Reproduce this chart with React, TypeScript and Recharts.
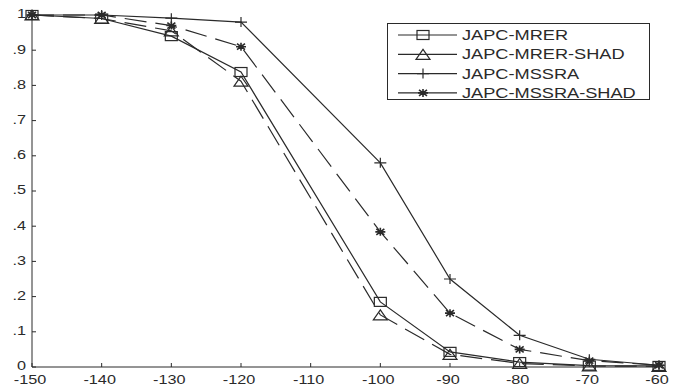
import { LineChart, Line, XAxis, YAxis, Legend } from "recharts";

// SNR axis (dB) and detection probability per scheme
const snr = [-150, -140, -130, -120, -100, -90, -80, -70, -60];
const mrer = [1, 0.99, 0.94, 0.838, 0.185, 0.043, 0.014, 0.004, 0.003];
const mrerShad = [1, 0.99, 0.955, 0.812, 0.148, 0.036, 0.01, 0.003, 0.002];
const mssra = [1, 1, 0.991, 0.98, 0.58, 0.25, 0.09, 0.022, 0.005];
const mssraShad = [1, 1, 0.97, 0.91, 0.384, 0.153, 0.05, 0.018, 0.005];

const xTicks = [-150, -140, -130, -120, -110, -100, -90, -80, -70, -60];
const yTicks = [0, 0.1, 0.2, 0.3, 0.4, 0.5, 0.6, 0.7, 0.8, 0.9, 1];

const INK = "#2a2a2a";
const FONT = "'Liberation Sans', Arial, sans-serif";

type Shape = "square" | "triangle" | "plus" | "star";

const series: { key: string; name: string; shape: Shape; dash?: string }[] = [
  { key: "mrer", name: "JAPC-MRER", shape: "square" },
  { key: "mrerShad", name: "JAPC-MRER-SHAD", shape: "triangle", dash: "22 9" },
  { key: "mssra", name: "JAPC-MSSRA", shape: "plus" },
  { key: "mssraShad", name: "JAPC-MSSRA-SHAD", shape: "star", dash: "22 9" },
];

const data = snr.map((x, i) => ({
  snr: x,
  mrer: mrer[i],
  mrerShad: mrerShad[i],
  mssra: mssra[i],
  mssraShad: mssraShad[i],
}));

function marker(shape: Shape, cx: number, cy: number, key?: string) {
  const common = { stroke: INK, strokeWidth: 1.2, fill: "none" };
  switch (shape) {
    case "square":
      return <rect key={key} x={cx - 6} y={cy - 4.5} width={12} height={9} {...common} />;
    case "triangle":
      return (
        <polygon
          key={key}
          points={`${cx},${cy - 5} ${cx - 7},${cy + 5} ${cx + 7},${cy + 5}`}
          {...common}
        />
      );
    case "plus":
      return (
        <path key={key} d={`M${cx - 6},${cy}H${cx + 6}M${cx},${cy - 5}V${cy + 5}`} {...common} />
      );
    default:
      return (
        <path
          key={key}
          d={`M${cx - 5},${cy}H${cx + 5}M${cx},${cy - 4}V${cy + 4}M${cx - 4},${cy - 3}L${cx + 4},${cy + 3}M${cx - 4},${cy + 3}L${cx + 4},${cy - 3}`}
          {...common}
          strokeWidth={1.6}
        />
      );
  }
}

const XTick = ({ x, y, payload }: any) => (
  <text
    transform={`translate(${x - 2},${y}) scale(1.3,1)`}
    textAnchor="middle"
    dy="0.71em"
    fontSize={12.5}
    fontFamily={FONT}
    fill={INK}
  >
    {payload.value}
  </text>
);

const fmtY = (v: number) => (v === 0 ? "0" : v === 1 ? "1" : "." + Math.round(v * 10));

const YTick = ({ x, y, payload }: any) => (
  <text
    transform={`translate(${x},${y - 1}) scale(1.3,1)`}
    textAnchor="end"
    dy="0.355em"
    fontSize={12.5}
    fontFamily={FONT}
    fill={INK}
  >
    {fmtY(payload.value)}
  </text>
);

const LegendBox = () => (
  <svg width={263} height={77}>
    <rect x={0.5} y={0.5} width={262} height={76} fill="#fff" stroke={INK} />
    {series.map((s, i) => {
      const cy = 12 + i * 19.3;
      return (
        <g key={s.key}>
          <line x1={11} x2={70} y1={cy} y2={cy} stroke={INK} strokeWidth={1.2} />
          {marker(s.shape, 36, cy)}
          <text
            transform={`translate(75,${cy}) scale(1.3,1)`}
            dy="0.355em"
            fontSize={14}
            fontFamily={FONT}
            fill={INK}
          >
            {s.name}
          </text>
        </g>
      );
    })}
  </svg>
);

export default function App() {
  return (
    <div style={{ position: "absolute", left: 0, top: 0, background: "#fff" }}>
      <LineChart
        width={685}
        height={386}
        data={data}
        margin={{ top: 15, right: 26, bottom: 0, left: 0 }}
      >
        <XAxis
          dataKey="snr"
          type="number"
          domain={[-150, -60]}
          ticks={xTicks}
          height={19}
          stroke={INK}
          tickSize={-4}
          tickMargin={12}
          tick={<XTick />}
        />
        <XAxis
          xAxisId="top"
          orientation="top"
          type="number"
          domain={[-150, -60]}
          ticks={xTicks}
          height={0}
          stroke={INK}
          tickSize={-4}
          tick={false}
          allowDataOverflow
        />
        <YAxis
          type="number"
          domain={[0, 1]}
          ticks={yTicks}
          width={32}
          stroke={INK}
          tickSize={-4}
          tickMargin={10}
          tick={<YTick />}
        />
        <YAxis
          yAxisId="right"
          orientation="right"
          type="number"
          domain={[0, 1]}
          ticks={yTicks}
          width={0}
          stroke={INK}
          tickSize={-4}
          tick={false}
          allowDataOverflow
        />
        <Legend
          layout="vertical"
          align="center"
          verticalAlign="middle"
          content={<LegendBox />}
          wrapperStyle={{ position: "absolute", left: 387, top: 23, width: 263, height: 77 }}
        />
        {series.map((s) => (
          <Line
            key={s.key}
            type="linear"
            dataKey={s.key}
            name={s.name}
            stroke={INK}
            strokeWidth={1.2}
            strokeDasharray={s.dash}
            isAnimationActive={false}
            dot={(p: any) => marker(s.shape, p.cx, p.cy, `${s.key}-${p.index}`)}
          />
        ))}
      </LineChart>
    </div>
  );
}
